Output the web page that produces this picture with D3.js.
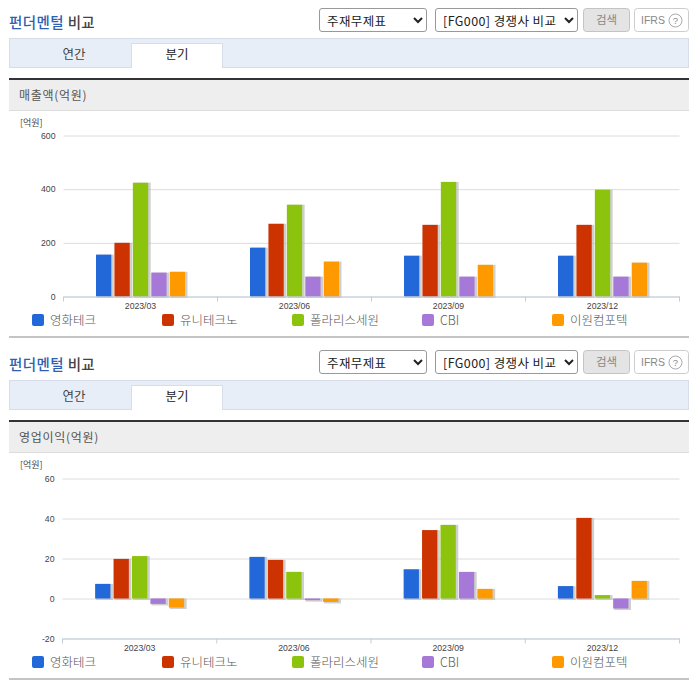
<!DOCTYPE html>
<html>
<head>
<meta charset="utf-8">
<script src="https://cdn.jsdelivr.net/npm/d3@7"></script>
<style>
html, body { margin: 0; padding: 0; background: #fff; }
body { position: relative; width: 696px; height: 684px; overflow: hidden; font-family: "Noto Sans CJK KR", sans-serif; }
svg { position: absolute; left: 0; top: 0; }
text { font-family: "Noto Sans CJK KR", sans-serif; }
select { position: absolute; height: 24px; box-sizing: border-box; background: #fff; border: 1px solid #999; border-radius: 3px; font-family: "Noto Sans CJK KR", sans-serif; font-size: 12.5px; color: #222; padding: 0 0 0 3px; letter-spacing: 0.4px; }
.axis text { font-family: "Liberation Sans", sans-serif; font-size: 8.7px; fill: #444; }
</style>
</head>
<body>
<script>
var width = 696, height = 684;

// Data
var quarters = ["2023/03", "2023/06", "2023/09", "2023/12"];
var companies = ["영화테크", "유니테크노", "폴라리스세원", "CBI", "이원컴포텍"];
var colors = ["#2268d8", "#cc3300", "#8cc30c", "#a678d8", "#ff9900"];

var sales = [
    [156, 200, 424, 89, 92],
    [182, 271, 342, 74, 130],
    [152, 267, 427, 74, 118],
    [152, 267, 398, 74, 126]
];
var profit = [
    [7.3, 19.8, 21.2, -2.7, -4.5],
    [20.8, 19.3, 13.3, -0.8, -1.7],
    [14.6, 34.2, 36.8, 13.3, 4.8],
    [6.2, 40.3, 1.7, -5, 8.8]
];
var salesTicks = [0, 200, 400, 600];
var profitTicks = [-20, 0, 20, 40, 60];

var svg = d3.select("body")
    .append("svg")
    .attr("width", width)
    .attr("height", height);

function drawPanel(top, title, values, ticks, plotTop, plotBottom, plotLeft) {
    var g = svg.append("g").attr("transform", "translate(0," + top + ")");

    // Heading
    var head = g.append("text").attr("x", 9).attr("y", 28).attr("font-size", 14.5).attr("font-weight", 500).attr("letter-spacing", 0.4);
    head.append("tspan").attr("fill", "#2f5fb3").text("펀더멘털");
    head.append("tspan").attr("fill", "#444").text(" 비교");

    // Dropdowns are real form controls
    d3.select("body").append("select")
        .style("left", "319px").style("top", (top + 8) + "px").style("width", "108px")
        .append("option").text("주재무제표");
    d3.select("body").append("select")
        .style("left", "435px").style("top", (top + 8) + "px").style("width", "143px")
        .append("option").text("[FG000] 경쟁사 비교");

    // Search + IFRS buttons
    g.append("rect").attr("x", 583.5).attr("y", 8.5).attr("width", 46).attr("height", 23).attr("rx", 3)
        .attr("fill", "#e4e4e4").attr("stroke", "#c4c4c4");
    g.append("text").attr("x", 606.5).attr("y", 24).attr("text-anchor", "middle").attr("font-size", 11.5)
        .attr("fill", "#888").text("검색");
    g.append("rect").attr("x", 634.5).attr("y", 8.5).attr("width", 54).attr("height", 23).attr("rx", 3)
        .attr("fill", "#fff").attr("stroke", "#ccc");
    g.append("text").attr("x", 641).attr("y", 24).attr("font-size", 10.5).attr("fill", "#888")
        .style("font-family", "Liberation Sans").text("IFRS");
    g.append("circle").attr("cx", 675.5).attr("cy", 20.5).attr("r", 6.5).attr("fill", "#fff").attr("stroke", "#aaa");
    g.append("text").attr("x", 675.5).attr("y", 24).attr("text-anchor", "middle").attr("font-size", 9.5).attr("fill", "#888")
        .style("font-family", "Liberation Sans").text("?");

    // Tabs
    g.append("rect").attr("x", 9.5).attr("y", 38.5).attr("width", 679).attr("height", 29)
        .attr("fill", "#e8eef8").attr("stroke", "#d6dde8");
    g.append("path").attr("d", "M131.5,68V43.5H222.5V68").attr("fill", "#fff").attr("stroke", "#d6dde8");
    g.append("text").attr("x", 74).attr("y", 59).attr("text-anchor", "middle").attr("font-size", 12.5).attr("fill", "#444").text("연간");
    g.append("text").attr("x", 177).attr("y", 59).attr("text-anchor", "middle").attr("font-size", 12.5).attr("fill", "#222").text("분기");

    // Section bar
    g.append("rect").attr("x", 9).attr("y", 80).attr("width", 680).attr("height", 30).attr("fill", "#eeeeee");
    g.append("rect").attr("x", 9).attr("y", 78).attr("width", 680).attr("height", 2).attr("fill", "#333");
    g.append("rect").attr("x", 9).attr("y", 110).attr("width", 680).attr("height", 1).attr("fill", "#ddd");
    g.append("text").attr("x", 19).attr("y", 100).attr("font-size", 12).attr("letter-spacing", 0.7).attr("fill", "#555").text(title);
    g.append("text").attr("x", 20).attr("y", 126).attr("font-size", 9).attr("fill", "#444").text("[억원]");

    // Scales
    var x0 = d3.scaleBand()
        .domain(quarters)
        .range([plotLeft, 679.5]);
    var x1 = d3.scaleBand()
        .domain(companies)
        .range([x0.bandwidth() / 2 - 44.5, x0.bandwidth() / 2 + 44.5])
        .paddingInner(0.17);
    var y = d3.scaleLinear()
        .domain(d3.extent(ticks))
        .range([plotBottom, plotTop]);

    // Gridlines and value labels
    var yAxis = g.append("g")
        .attr("class", "axis")
        .attr("transform", "translate(" + plotLeft + ",0)")
        .call(d3.axisLeft(y).tickValues(ticks).tickSize(-(679.5 - plotLeft)).tickPadding(8).tickFormat(function(d) { return d; }));
    yAxis.select(".domain").remove();
    yAxis.selectAll("line").attr("stroke", "#dcdcdc");

    // Bars, each with a soft grey shadow behind
    var groups = g.selectAll(".quarter")
        .data(values)
        .enter().append("g")
        .attr("class", "quarter")
        .attr("transform", function(d, i) { return "translate(" + x0(quarters[i]) + ",0)"; });

    groups.selectAll(".shadow")
        .data(function(d) { return d; })
        .enter().append("rect")
        .attr("class", "shadow")
        .attr("x", function(d, i) { return x1(companies[i]) + 1; })
        .attr("y", function(d) { return Math.min(y(d), y(0)); })
        .attr("width", x1.bandwidth() + 1.5)
        .attr("height", function(d) { return Math.abs(y(d) - y(0)) + 1.5; })
        .attr("fill", "#bbb")
        .attr("opacity", 0.7);

    groups.selectAll(".bar")
        .data(function(d) { return d; })
        .enter().append("rect")
        .attr("class", "bar")
        .attr("x", function(d, i) { return x1(companies[i]); })
        .attr("y", function(d) { return Math.min(y(d), y(0)); })
        .attr("width", x1.bandwidth())
        .attr("height", function(d) { return Math.abs(y(d) - y(0)); })
        .attr("fill", function(d, i) { return colors[i]; });

    // Category axis: ticks sit on the band edges, labels in the middle
    var xAxis = g.append("g")
        .attr("class", "axis")
        .attr("transform", "translate(0," + y(ticks[0]) + ")")
        .call(d3.axisBottom(x0).tickSize(0).tickPadding(6));
    xAxis.select(".domain").attr("stroke", "#c3cedd");
    xAxis.selectAll(".edge")
        .data(x0.domain().concat(["end"]))
        .enter().append("line")
        .attr("class", "edge")
        .attr("x1", function(d) { return d == "end" ? 679.5 : x0(d); })
        .attr("x2", function(d) { return d == "end" ? 679.5 : x0(d); })
        .attr("y1", 0)
        .attr("y2", 5)
        .attr("stroke", "#c3cedd");

    // Legend
    var legend = g.selectAll(".legend")
        .data(companies)
        .enter().append("g")
        .attr("class", "legend")
        .attr("transform", function(d, i) { return "translate(" + (32 + i * 130) + ",314)"; });
    legend.append("rect")
        .attr("width", 12).attr("height", 12).attr("rx", 2)
        .attr("fill", function(d, i) { return colors[i]; });
    legend.append("text")
        .attr("x", 18).attr("y", 11)
        .attr("font-size", 12.5).attr("font-weight", 300).attr("fill", "#555")
        .text(function(d) { return d; });

    g.append("rect").attr("x", 9).attr("y", 336).attr("width", 680).attr("height", 2).attr("fill", "#c4c4c4");
}

drawPanel(0, "매출액(억원)", sales, salesTicks, 135.5, 296.5, 63.5);
drawPanel(342, "영업이익(억원)", profit, profitTicks, 136.5, 296.5, 62.5);
</script>
</body>
</html>
